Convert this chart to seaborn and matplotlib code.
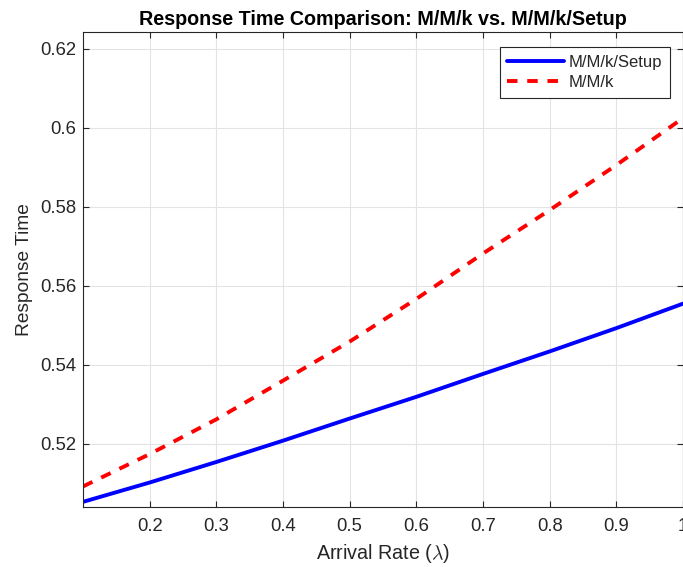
import matplotlib
matplotlib.use("Agg")
import matplotlib.pyplot as plt
import seaborn as sns
import pandas as pd
import numpy as np

# Data
arrival_rate = [0.1, 0.2, 0.3, 0.4, 0.5, 0.6, 0.7, 0.8, 0.9, 1.0]
setup_rt = [0.5053, 0.5102, 0.5154, 0.5208, 0.5264, 0.5319, 0.5377, 0.5434, 0.5493, 0.5555]
mmk_rt = [0.5092, 0.5174, 0.5262, 0.5360, 0.5459, 0.5567, 0.5682, 0.5792, 0.5906, 0.6025]
series_names = ["M/M/k/Setup", "M/M/k"]
x_ticks = [0.2, 0.3, 0.4, 0.5, 0.6, 0.7, 0.8, 0.9, 1.0]
x_tick_labels = ["0.2", "0.3", "0.4", "0.5", "0.6", "0.7", "0.8", "0.9", "1"]
y_ticks = [0.52, 0.54, 0.56, 0.58, 0.60, 0.62]
y_tick_labels = ["0.52", "0.54", "0.56", "0.58", "0.6", "0.62"]

sns.set_theme(style="white")
plt.rcParams["font.family"] = ["Liberation Sans", "DejaVu Sans"]
plt.rcParams["mathtext.fontset"] = "cm"

df = pd.DataFrame({
    "x": arrival_rate * 2,
    "y": setup_rt + mmk_rt,
    "series": [series_names[0]] * len(arrival_rate) + [series_names[1]] * len(arrival_rate),
})

fig = plt.figure(figsize=(6.83, 5.67), dpi=100)
ax = fig.add_axes([83 / 683, 1 - 507 / 567, 600 / 683, 475 / 567])

sns.lineplot(data=df[df.series == series_names[0]], x="x", y="y", color="#0000ff",
             linewidth=2.8, ax=ax, label=series_names[0])
sns.lineplot(data=df[df.series == series_names[1]], x="x", y="y", color="#ff0000",
             linewidth=2.8, ax=ax, label=series_names[1])
ax.lines[1].set_dashes((2.7, 2.5))
ax.lines[1].set_dash_capstyle("butt")

ax.set_xlim(0.1, 1.0)
ax.set_ylim(0.504, 0.6243)
ax.set_xticks(x_ticks)
ax.set_xticklabels(x_tick_labels)
ax.set_yticks(y_ticks)
ax.set_yticklabels(y_tick_labels)

ax.grid(True, color="#e3e3e3", linewidth=0.8)
ax.set_axisbelow(True)
for s in ax.spines.values():
    s.set_visible(True)
    s.set_color("#262626")
    s.set_linewidth(0.8)
ax.tick_params(axis="both", direction="in", length=4, width=0.8, color="#262626",
               labelcolor="#262626", labelsize=13.3, top=True, right=True,
               bottom=True, left=True)
ax.tick_params(axis="x", pad=8)
ax.tick_params(axis="y", pad=5)

ax.set_xlabel(r"Arrival Rate ($\lambda$)", fontsize=14.2, color="#262626", labelpad=5)
ax.set_ylabel("Response Time", fontsize=13.8, color="#262626", labelpad=5)
ax.set_title("Response Time Comparison: M/M/k vs. M/M/k/Setup", fontsize=14.2,
             fontweight="bold", color="black", pad=5)

leg = ax.legend(loc="upper right", bbox_to_anchor=(587 / 600, 460 / 475), borderaxespad=0,
                fontsize=12, handlelength=3.4, handletextpad=0.3, labelspacing=0.35,
                borderpad=0.45, fancybox=False, framealpha=1, edgecolor="#262626")
leg.get_frame().set_linewidth(0.8)

fig.savefig("out.png", dpi=100)
